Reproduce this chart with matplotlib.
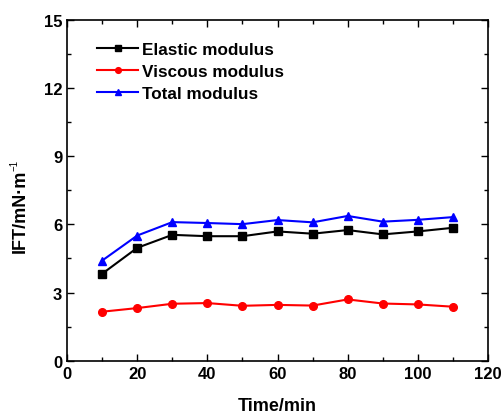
import numpy as np
import matplotlib
matplotlib.use("Agg")
import matplotlib.pyplot as plt
from matplotlib.ticker import MultipleLocator

plt.rcParams["font.family"] = ["Liberation Sans", "DejaVu Sans"]
plt.rcParams["font.weight"] = "bold"

# data
time_min = [10, 20, 30, 40, 50, 60, 70, 80, 90, 100, 110]
elastic = [3.83, 4.97, 5.54, 5.48, 5.48, 5.69, 5.59, 5.75, 5.56, 5.69, 5.85]
viscous = [2.16, 2.32, 2.51, 2.54, 2.42, 2.46, 2.43, 2.70, 2.52, 2.48, 2.38]
total = [4.41, 5.51, 6.10, 6.06, 6.01, 6.19, 6.09, 6.37, 6.12, 6.20, 6.32]

fig = plt.figure(figsize=(5.01, 4.14), dpi=100)
ax = fig.add_axes([0.134, 0.126, 0.840, 0.824])

ax.plot(time_min, elastic, "-s", color="black", lw=1.5, ms=5.5, label="Elastic modulus")
ax.plot(time_min, viscous, "-o", color="red", lw=1.5, ms=5.5, label="Viscous modulus")
ax.plot(time_min, total, "-^", color="blue", lw=1.5, ms=6, label="Total modulus")

ax.set_xlim(0, 120)
ax.set_ylim(0, 15)
ax.xaxis.set_major_locator(MultipleLocator(20))
ax.xaxis.set_minor_locator(MultipleLocator(10))
ax.yaxis.set_major_locator(MultipleLocator(3))
ax.yaxis.set_minor_locator(MultipleLocator(1.5))
ax.tick_params(which="both", direction="in", top=True, right=True,
               labeltop=False, labelright=False)
ax.tick_params(which="major", length=5, width=1, labelsize=12)
ax.tick_params(which="minor", length=3, width=1)
for lab in ax.get_xticklabels() + ax.get_yticklabels():
    lab.set_fontweight("bold")
for sp in ax.spines.values():
    sp.set_linewidth(1.2)

ax.set_xlabel("Time/min", fontsize=13, fontweight="bold", labelpad=12)
# y label with a small, light superscript like the original
fig.text(0.040, 0.489, "IFT/mN·m", rotation=90, ha="center", va="center",
         fontsize=13, fontweight="bold")
fig.text(0.029, 0.600, "\u22121", rotation=90, ha="center", va="center",
         fontsize=7, fontweight="normal")

leg = ax.legend(loc="upper left", bbox_to_anchor=(0.055, 0.955), frameon=False,
                handlelength=2.4, handletextpad=0.25, labelspacing=0.42,
                borderaxespad=0.0, markerscale=0.75,
                prop={"weight": "bold", "size": 12.3})

fig.savefig("out.png", dpi=100)
